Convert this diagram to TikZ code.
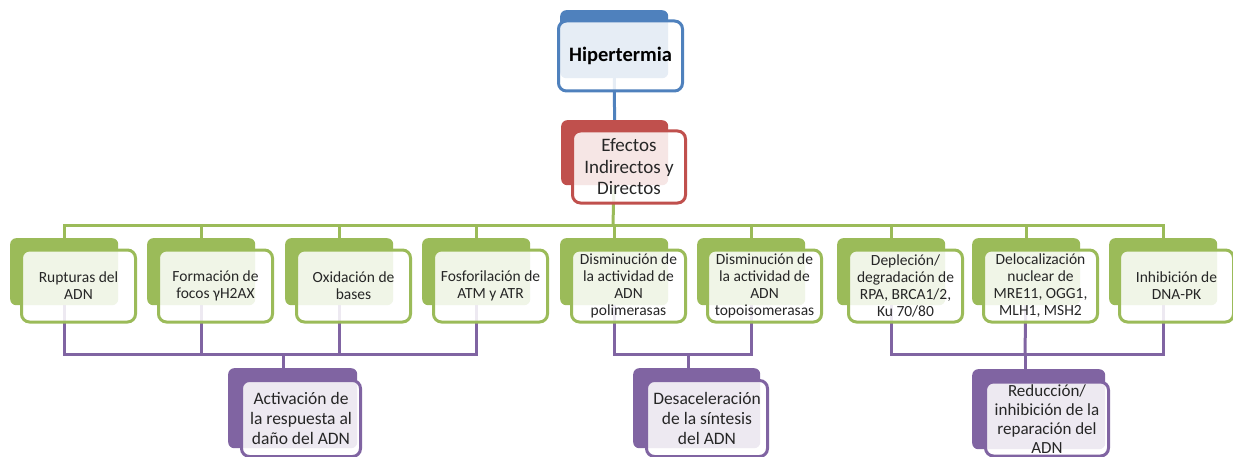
\documentclass[tikz,border=0pt]{standalone}
\usepackage{fontspec}
\setmainfont{Carlito}
\usetikzlibrary{backgrounds}

\definecolor{azul}{HTML}{4F81BD}
\definecolor{rojo}{HTML}{C0504D}
\definecolor{verde}{HTML}{9BBB59}
\definecolor{morado}{HTML}{8064A2}
\definecolor{texto}{HTML}{262626}

\begin{document}
\begin{tikzpicture}[x=1pt,y=-1pt,
    fondo/.style={fill=#1,rounded corners=6pt,inner sep=0pt,anchor=north west},
    caja/.style={draw=#1,line width=3pt,fill=white,fill opacity=0.86,text opacity=1,
      rounded corners=8pt,inner sep=0pt,anchor=north west,align=center,text=texto},
    fila/.style={caja=verde,minimum width=114pt,minimum height=72pt,
      font=\fontsize{15.5}{17}\selectfont},
    filafondo/.style={fondo=verde,minimum width=108pt,minimum height=67pt},
    res/.style={caja=morado,font=\fontsize{17.5}{20}\selectfont},
    linea/.style={draw=#1,line width=3pt}]
    \useasboundingbox (0,0) rectangle (1233,457);

    %arriba
    \node[fondo=azul,minimum width=108pt,minimum height=68pt] (hipF) at (560,10) {};
    \node[caja=azul,minimum width=124pt,minimum height=70pt,
      font=\fontsize{20.5}{23}\selectfont\bfseries,text=black] (hip) at (557,19.5) {Hipertermia};
    \node[fondo=rojo,minimum width=107pt,minimum height=65pt] (efF) at (561,120) {};
    \node[caja=rojo,minimum width=113pt,minimum height=72pt,
      font=\fontsize{19}{21.5}\selectfont] (ef) at (571,129.5) {Efectos\\Indirectos y\\Directos};

    %fila de efectos
    \node[filafondo] (rupF) at (10,238) {};
    \node[fila] (rup) at (20,248.5) {Rupturas del\\ADN};
    \node[filafondo] (focF) at (147,238) {};
    \node[fila] (foc) at (157,248.5) {Formación de\\focos γH2AX};
    \node[filafondo] (oxiF) at (285,238) {};
    \node[fila] (oxi) at (295,248.5) {Oxidación de\\bases};
    \node[filafondo] (fosF) at (422,238) {};
    \node[fila] (fos) at (432,248.5) {Fosforilación de\\ATM y ATR};
    \node[filafondo] (polF) at (560,238) {};
    \node[fila] (pol) at (570,248.5) {Disminución de\\la actividad de\\ADN\\polimerasas};
    \node[filafondo] (topF) at (697,238) {};
    \node[fila] (top) at (706,248.5) {Disminución de\\la actividad de\\ADN\\topoisomerasas};
    \node[filafondo] (depF) at (837,238) {};
    \node[fila] (dep) at (847,248.5) {Depleción/\\degradación de\\RPA, BRCA1/2,\\Ku 70/80};
    \node[filafondo] (delF) at (972,238) {};
    \node[fila] (del) at (982,248.5) {Delocalización\\nuclear de\\MRE11, OGG1,\\MLH1, MSH2};
    \node[filafondo] (inhF) at (1109,238) {};
    \node[fila] (inh) at (1118,248.5) {Inhibición de\\DNA-PK};

    %resultados
    \node[fondo=morado,minimum width=129pt,minimum height=80pt] (actF) at (228,368) {};
    \node[res,minimum width=119pt,minimum height=76pt] (act) at (240,379)
      {Activación de\\la respuesta al\\daño del ADN};
    \node[fondo=morado,minimum width=127pt,minimum height=80pt] (desF) at (633,368) {};
    \node[res,minimum width=121pt,minimum height=76pt] (des) at (645,379)
      {Desaceleración\\de la síntesis\\del ADN};
    \node[fondo=morado,minimum width=133pt,minimum height=80pt] (redF) at (972,369) {};
    \node[res,font=\fontsize{17}{18.8}\selectfont,minimum width=123pt,minimum height=74pt]
      (red) at (984,380.5) {Reducción/\\inhibición de la\\reparación del\\ADN};

    \coordinate (busV) at (613,225);
    \coordinate (g1) at (283,354);
    \coordinate (g2) at (688,354);
    \coordinate (g3) at (1025,354);

    \begin{pgfonlayer}{background}
    \draw[linea=azul] (hipF.center) -- (efF.center);
    \draw[linea=verde] (efF.center) -- (busV);
    \draw[linea=verde] (busV) -| (rupF.center);
    \draw[linea=verde] (busV) -| (inhF.center);
    \draw[linea=verde] (busV) -| (focF.center);
    \draw[linea=verde] (busV) -| (oxiF.center);
    \draw[linea=verde] (busV) -| (fosF.center);
    \draw[linea=verde] (busV) -| (polF.center);
    \draw[linea=verde] (busV) -| (topF.center);
    \draw[linea=verde] (busV) -| (depF.center);
    \draw[linea=verde] (busV) -| (delF.center);

    \draw[linea=morado] (rupF.center) |- (g1) -| (fosF.center);
    \draw[linea=morado] (focF.center) -- (focF.center |- g1);
    \draw[linea=morado] (oxiF.center) -- (oxiF.center |- g1);
    \draw[linea=morado] (g1) -- (g1 |- actF.north);
    \draw[linea=morado] (polF.center) |- (g2) -| (topF.center);
    \draw[linea=morado] (g2) -- (g2 |- desF.north);
    \draw[linea=morado] (depF.center) |- (g3) -| (inhF.center);
    \draw[linea=morado] (delF.center) -- (g3);
    \draw[linea=morado] (g3) -- (g3 |- redF.north);
    \end{pgfonlayer}
\end{tikzpicture}
\end{document}
